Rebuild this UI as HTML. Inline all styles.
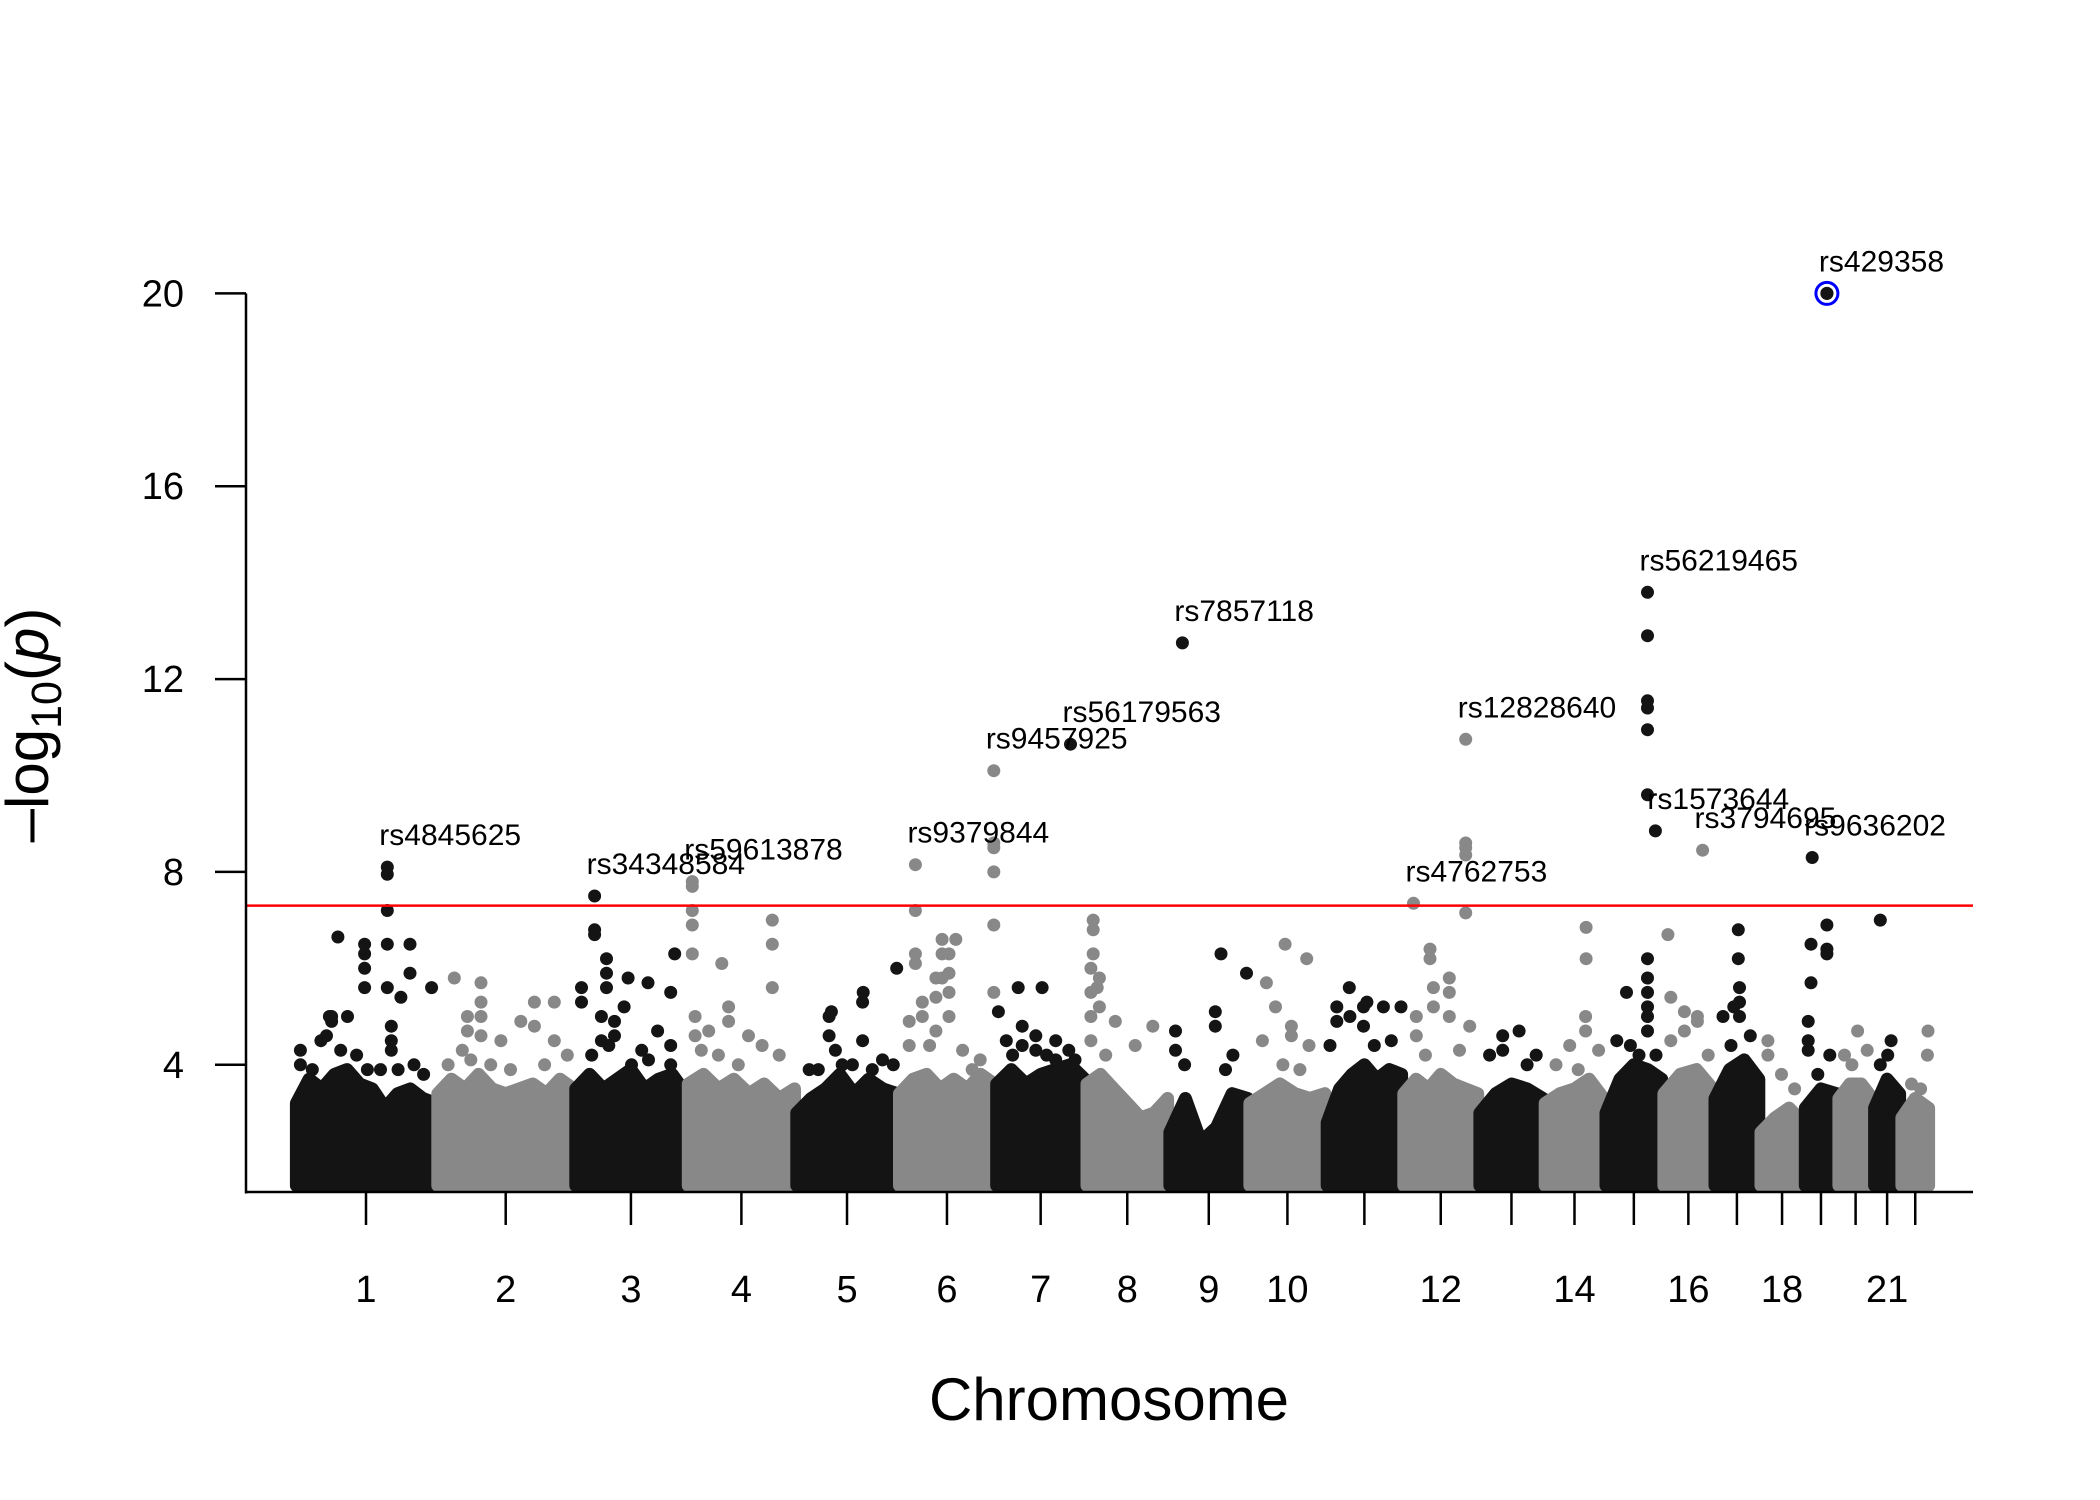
<!DOCTYPE html>
<html><head><meta charset="utf-8"><style>
html,body{margin:0;padding:0;background:#fff}
svg{display:block}
text{font-family:"Liberation Sans",sans-serif}
</style></head><body>
<svg id="chart" width="2100" height="1500" viewBox="0 0 2100 1500" xmlns="http://www.w3.org/2000/svg">
<g id="mass"></g>
<g id="pts"></g>
<g id="axes"></g>
<g id="labels"></g>
</svg>
<script>
const chromLengths = [249,243,198,191,181,171,159,146,141,136,135,134,115,107,102,90,81,78,59,63,48,51];
const chromTickLabels = ["1","2","3","4","5","6","7","8","9","10","","12","","14","","16","","18","","","21",""];
const yTicks = [4,8,12,16,20];
const threshold = 7.3;
// dense-core envelope heights per chromosome (-log10 p), evenly spaced along each chromosome
const envelope = [
 [3.2,3.7,3.5,3.8,3.9,3.6,3.5,3.1,3.4,3.5,3.3,3.2],
 [3.4,3.7,3.5,3.8,3.5,3.4,3.5,3.6,3.4,3.7,3.5],
 [3.5,3.8,3.5,3.7,3.9,3.5,3.7,3.8,3.4],
 [3.6,3.8,3.5,3.7,3.4,3.6,3.3,3.5],
 [3.0,3.3,3.5,3.8,3.4,3.7,3.5,3.4],
 [3.4,3.7,3.8,3.5,3.7,3.5,3.8,3.6],
 [3.6,3.9,3.6,3.8,3.9,4.0,3.7],
 [3.6,3.8,3.5,3.2,2.9,3.0,3.3],
 [2.6,3.3,2.4,2.7,3.4,3.3],
 [3.2,3.4,3.6,3.4,3.3,3.4],
 [2.8,3.5,3.8,4.0,3.7,3.9,3.8],
 [3.4,3.7,3.5,3.8,3.6,3.5,3.4],
 [3.0,3.4,3.6,3.5,3.3],
 [3.2,3.4,3.5,3.7,3.3],
 [3.0,3.7,4.0,3.9,3.7],
 [3.4,3.8,3.9,3.5],
 [3.3,3.9,4.1,3.7],
 [2.6,2.9,3.1,2.8],
 [3.1,3.5,3.4],
 [3.3,3.6,3.6,3.3],
 [3.1,3.7,3.4],
 [2.9,3.3,3.1]
];
// moderate-signal points per chromosome: [position Mb, value]
const fringe = [
 [[9,4.3],[9,4.0],[45,4.5],[64,5.0],[64,4.9],[92,5.0],[108,4.2],[127,3.9],[169,4.3],[181,3.9],[209,4.0],[226,3.8],[150,3.9],[30,3.9],[80,4.3],[55,4.6]],
 [[31,5.8],[54,5.0],[54,4.7],[78,5.7],[78,5.3],[78,5.0],[78,4.6],[113,4.5],[148,4.9],[172,5.3],[172,4.8],[207,5.3],[207,4.5],[230,4.2],[20,4.0],[95,4.0],[130,3.9],[190,4.0],[45,4.3],[60,4.1]],
 [[12,5.6],[12,5.3],[47,5.0],[47,4.5],[70,4.9],[70,4.6],[87,5.2],[118,4.3],[146,4.7],[169,4.4],[169,4.0],[30,4.2],[100,4.0],[130,4.1],[60,4.4]],
 [[14,5.0],[14,4.6],[38,4.7],[73,4.9],[73,5.2],[108,4.6],[132,4.4],[162,4.2],[55,4.2],[90,4.0],[25,4.3]],
 [[24,3.9],[59,5.0],[59,4.6],[82,4.0],[118,4.5],[118,5.3],[153,4.1],[172,4.0],[40,3.9],[100,4.0],[135,3.9],[70,4.3]],
 [[19,4.4],[19,4.9],[42,5.3],[42,5.0],[66,5.8],[66,5.4],[66,4.7],[89,6.3],[89,5.9],[89,5.5],[89,5.0],[113,4.3],[144,4.1],[130,3.9],[55,4.4]],
 [[19,4.5],[47,4.8],[47,4.4],[71,4.6],[71,4.3],[106,4.5],[106,4.1],[129,4.3],[90,4.2],[140,4.1],[30,4.2]],
 [[9,6.0],[9,5.5],[9,5.0],[9,4.5],[24,5.8],[24,5.2],[52,4.9],[87,4.4],[118,4.8],[35,4.2]],
 [[12,4.7],[12,4.3],[28,4.0],[82,5.1],[82,4.8],[113,4.2],[100,3.9]],
 [[24,4.5],[47,5.2],[75,4.8],[75,4.6],[106,4.4],[60,4.0],[90,3.9]],
 [[7,4.4],[19,5.2],[19,4.9],[42,5.0],[66,5.2],[66,4.8],[101,5.2],[132,5.2],[85,4.4],[115,4.5]],
 [[24,5.0],[24,4.6],[54,5.6],[54,5.2],[82,5.8],[82,5.5],[82,5.0],[118,4.8],[40,4.2],[100,4.3]],
 [[19,4.2],[42,4.6],[42,4.3],[71,4.7],[101,4.2],[85,4.0]],
 [[21,4.0],[45,4.4],[73,5.0],[73,4.7],[96,4.3],[60,3.9]],
 [[21,4.5],[45,4.4],[75,5.5],[75,5.2],[75,5.0],[75,4.7],[60,4.2],[90,4.2]],
 [[14,5.4],[14,4.5],[38,5.1],[38,4.7],[61,4.9],[61,5.0],[80,4.2]],
 [[16,5.0],[45,5.6],[45,5.3],[45,5.0],[64,4.6],[30,4.4]],
 [[14,4.5],[14,4.2],[38,3.8],[61,3.5]],
 [[7,4.9],[7,4.5],[7,4.3],[24,3.8],[45,4.2]],
 [[12,4.2],[35,4.7],[52,4.3],[25,4.0]],
 [[12,4.0],[31,4.5],[25,4.2]],
 [[19,3.6],[47,4.2],[35,3.5]]
];
// notable points: chromosome, position (Mb), value
const ptChrom = [1,1,1,1,1,1,1,1,1,1,1,1,1,1,1,1,1, 3,3,3,3,3,3,3,3,3,3, 4,4,4,4,4,4,4,4,4, 5,5,5, 6,6,6,6,6,6,6,6,6,6,6,6,6,6, 7,7,7,7, 8,8,8,8, 9,9,9, 10,10,10, 11,11, 12,12,12,12,12,12,12,12, 14,14, 15,15,15,15,15,15,15,15,15,15, 16,16, 17,17,17, 19,19,19,19,19,19,19, 21, 22];
const ptPos = [162,162,162,162,162,75,122,122,122,122,202,202,186,240,169,169,60, 35,35,35,56,56,56,94,129,176,169, 9,9,9,9,9,61,150,150,150, 178,119,63, 30,30,30,30,77,77,77,101,168,168,168,168,168,168, 5,40,82,132, 13,13,13,20, 24,92,137, 31,64,102, 41,72, 19,48,48,111,111,111,111,111, 74,74, 38,75,75,75,75,75,75,89,75,75, 70,9, 43,43,35, 14,12,12,40,40,40,40, 12, 48];
const ptVal = [8.1,7.95,7.2,6.5,5.6,6.65,6.5,6.3,6.0,5.6,6.5,5.9,5.4,5.6,4.8,4.5,5.0, 7.5,6.8,6.7,6.2,5.9,5.6,5.8,5.7,6.3,5.5, 7.8,7.7,7.2,6.9,6.3,6.1,7.0,6.5,5.6, 6.0,5.5,5.1, 8.15,7.2,6.3,6.1,6.6,6.3,5.8,6.6,10.1,8.6,8.5,8.0,6.9,5.5, 5.1,5.6,5.6,10.65, 7.0,6.8,6.3,5.6, 12.75,6.3,5.9, 5.7,6.5,6.2, 5.6,5.3, 7.35,6.4,6.2,10.75,8.6,8.5,8.35,7.15, 6.85,6.2, 5.5,13.8,12.9,11.55,11.4,10.95,9.6,8.85,6.2,5.8, 8.45,6.7, 6.8,6.2,5.2, 8.3,6.5,5.7,20.0,6.9,6.4,6.3, 7.0, 4.7];
const snpNames = ["rs4845625","rs34348584","rs59613878","rs9379844","rs9457925","rs56179563","rs7857118","rs4762753","rs12828640","rs56219465","rs1573644","rs3794695","rs9636202","rs429358"];
const snpChrom = [1,3,4,6,6,7,9,12,12,15,15,16,19,19];
const snpPos = [162,35,9,30,168,132,24,19,111,75,89,70,14,40];
const snpVal = [8.1,7.5,7.8,8.15,10.1,10.65,12.75,7.35,10.75,13.8,8.85,8.45,8.3,20.0];

const NS="http://www.w3.org/2000/svg";
const starts=[];let c=0;for(const L of chromLengths){starts.push(c);c+=L;}
const xs=(ch,p)=>295.3+0.5679*(starts[ch-1]+p);
const ys=v=>1257.6-48.21*v;
const base=1192;
const R=6.5;
function mk(tag,attrs,parent){const e=document.createElementNS(NS,tag);for(const k in attrs)e.setAttribute(k,attrs[k]);parent.appendChild(e);return e;}
const colOf=ch=>ch%2===1?"#141414":"#888888";
const mass=document.getElementById("mass");
envelope.forEach((arr,i)=>{
  const ch=i+1,L=chromLengths[i];
  let d=`M${xs(ch,2).toFixed(1)},${base-R}`;
  arr.forEach((v,j)=>{const p=2+(L-4)*j/(arr.length-1);d+=` L${xs(ch,p).toFixed(1)},${ys(v).toFixed(1)}`;});
  d+=` L${xs(ch,L-2).toFixed(1)},${base-R} Z`;
  const e=mk("path",{d:d,fill:colOf(ch),stroke:colOf(ch),"stroke-width":2*R,"stroke-linejoin":"round"},mass);
  
  
});
const pts=document.getElementById("pts");
fringe.forEach((arr,i)=>{
  const ch=i+1;
  arr.forEach(pv=>{
    const e=mk("circle",{cx:xs(ch,pv[0]).toFixed(1),cy:ys(pv[1]).toFixed(1),r:R,fill:colOf(ch)},pts);
    
    
  });
});
ptChrom.forEach((ch,i)=>{
  const e=mk("circle",{cx:xs(ch,ptPos[i]).toFixed(1),cy:ys(ptVal[i]).toFixed(1),r:R,fill:colOf(ch)},pts);
  
  
});
const axes=document.getElementById("axes");
let e;
e=mk("line",{x1:246,y1:ys(threshold),x2:1973,y2:ys(threshold),stroke:"#ff0000","stroke-width":2.5},axes);


e=mk("line",{x1:246,y1:ys(20),x2:246,y2:base+1.5,stroke:"#000","stroke-width":2.5},axes);


e=mk("line",{x1:246,y1:base,x2:1973,y2:base,stroke:"#000","stroke-width":2.5},axes);


yTicks.forEach(v=>{
  const t=mk("line",{x1:215,y1:ys(v),x2:246,y2:ys(v),stroke:"#000","stroke-width":2.5},axes);
  
  
  const l=mk("text",{x:184,y:ys(v)+13,"text-anchor":"end","font-size":38},axes);
  l.textContent=v;
  
  
});
chromLengths.forEach((L,i)=>{
  const x=xs(i+1,L/2);
  const t=mk("line",{x1:x,y1:base,x2:x,y2:base+33,stroke:"#000","stroke-width":2.5},axes);
  
  
  if(chromTickLabels[i]){
    const l=mk("text",{x:x,y:1302,"text-anchor":"middle","font-size":38},axes);
    l.textContent=chromTickLabels[i];
    
    
  }
});
e=mk("text",{x:1109,y:1420,"text-anchor":"middle","font-size":60},axes);
e.textContent="Chromosome";


e=mk("text",{transform:"translate(48,725) rotate(-90)","text-anchor":"middle","font-size":60},axes);
e.innerHTML='\u2013log<tspan font-size="43" dy="13">10</tspan><tspan dy="-13">(</tspan><tspan font-style="italic">p</tspan>)';


const labels=document.getElementById("labels");
snpNames.forEach((n,i)=>{
  const x=xs(snpChrom[i],snpPos[i]),y=ys(snpVal[i]);
  const t=mk("text",{x:x-8,y:y-22,"font-size":30},labels);
  t.textContent=n;
  
  
});
const bx=xs(19,40),by=ys(20);
e=mk("circle",{cx:bx,cy:by,r:R,fill:"#141414"},labels);


e=mk("circle",{cx:bx,cy:by,r:11,fill:"none",stroke:"#0000ff","stroke-width":3},labels);


</script>
</body></html>
